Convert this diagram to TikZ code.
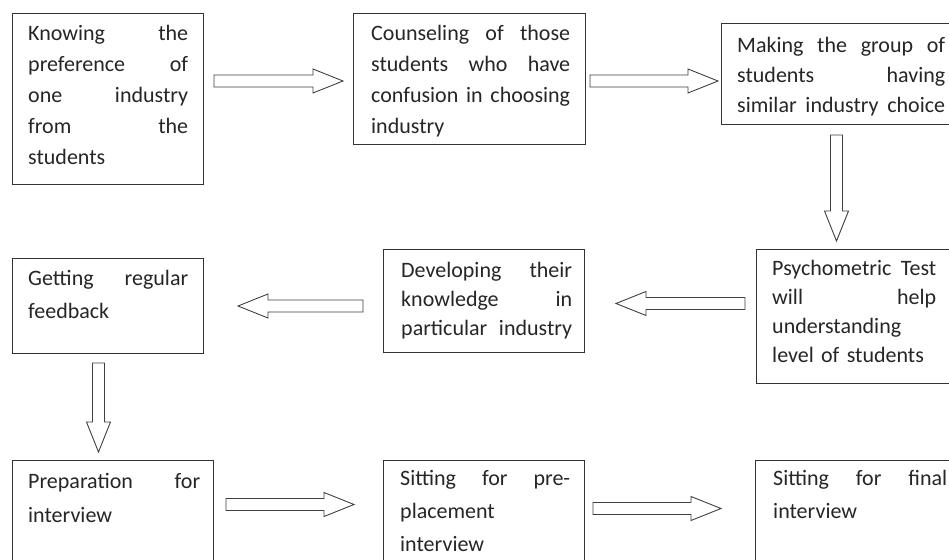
\documentclass[tikz,border=0pt]{standalone}
\usepackage{fontspec}
\setmainfont{Carlito}
\usetikzlibrary{calc}

\tikzset{
	stepbox/.style={draw=black!80, line width=1pt, anchor=north west, inner sep=0pt},
	steptext/.style={anchor=north west, inner sep=0pt, align=left, text=black!85,
		font=\fontsize{22pt}{#1}\selectfont},
	steptext/.default=31pt,
	blockarrow/.style={draw=black!75, line width=0.9pt, to path={
		let \p1=(\tikztostart), \p2=(\tikztotarget),
		    \n1={atan2(\y2-\y1,\x2-\x1)}, \n2={veclen(\x2-\x1,\y2-\y1)} in
		[shift={(\p1)}, rotate=\n1]
		(0pt,-6pt) -- (\n2-30pt,-6pt) -- (\n2-30pt,-12pt) -- (\n2,0pt)
		-- (\n2-30pt,12pt) -- (\n2-30pt,6pt) -- (0pt,6pt) -- cycle}}
}

\begin{document}
\begin{tikzpicture}[x=1pt,y=-1pt]
	\useasboundingbox (0,0) rectangle (949,559);
	\clip (0,0) rectangle (949,559);
	\fill[white] (0,0) rectangle (949,559);

	% boxes
	\node[stepbox, minimum width=191pt, minimum height=171pt] (know) at (12,13) {};
	\node[stepbox, minimum width=232pt, minimum height=131pt] (couns) at (353,13) {};
	\node[stepbox, minimum width=240pt, minimum height=101pt] (group) at (721,23) {};
	\node[stepbox, minimum width=196pt, minimum height=134pt] (psych) at (756,249) {};
	\node[stepbox, minimum width=201pt, minimum height=103pt] (devel) at (383,249) {};
	\node[stepbox, minimum width=191pt, minimum height=95pt] (feed) at (12,258) {};
	\node[stepbox, minimum width=201pt, minimum height=120pt] (prep) at (12,460) {};
	\node[stepbox, minimum width=201pt, minimum height=120pt] (place) at (383,460) {};
	\node[stepbox, minimum width=210pt, minimum height=120pt] (final) at (755,460) {};

	% texts
	\node[steptext, text width=160pt] (knowtxt) at ($(know.north west)+(16,12)$)
		{Knowing\hfill the\\ preference\hfill of\\ one\hfill industry\\ from\hfill the\\ students};
	\node[steptext, text width=199pt] (counstxt) at ($(couns.north west)+(18,12)$)
		{Counseling\hfill of\hfill those\\ students\hfill who\hfill have\\ confusion\hfill in\hfill choosing\\ industry};
	\node[steptext=30pt, text width=208pt] (grouptxt) at ($(group.north west)+(16,14)$)
		{Making\hfill the\hfill group\hfill of\\ students\hfill having\\ similar\hfill industry\hfill choice};
	\node[steptext=29pt, text width=164pt] (psychtxt) at ($(psych.north west)+(16,11)$)
		{Psychometric\hfill Test\\ will\hfill help\\ understanding\\ level of students};
	\node[steptext=29pt, text width=171pt] (develtxt) at ($(devel.north west)+(18,13)$)
		{Developing\hfill their\\ knowledge\hfill in\\ particular\hfill industry};
	\node[steptext=33pt, text width=160pt] (feedtxt) at ($(feed.north west)+(16,12)$)
		{Getting\hfill regular\\ feedback};
	\node[steptext=34pt, text width=172pt] (preptxt) at ($(prep.north west)+(16,13)$)
		{Preparation\hfill for\\ interview};
	\node[steptext=33pt, text width=170pt] (placetxt) at ($(place.north west)+(17,10)$)
		{Sitting\hfill for\hfill pre-\\ placement\\ interview};
	\node[steptext=33pt, text width=174pt] (finaltxt) at ($(final.north west)+(18,10)$)
		{Sitting\hfill for\hfill final\\ interview};

	% arrows
	\draw[blockarrow] ($(know.east |- couns.west)+(10,2)$) to ($(couns.west)+(-10,2)$);
	\draw[blockarrow] ($(couns.east)+(4,2)$) to ($(group.west |- couns.east)+(-3,2)$);
	\draw[blockarrow] ($(group.south)+(-5,10)$) to ($(group.south |- psych.north)+(-5,-8)$);
	\draw[blockarrow] ($(psych.west)+(-11,-13)$) to ($(devel.east |- psych.west)+(31,-13)$);
	\draw[blockarrow] ($(devel.west)+(-20,5)$) to ($(feed.east |- devel.west)+(34,5)$);
	\draw[blockarrow] ($(feed.south)+(-9.5,9)$) to ($(feed.south |- prep.north)+(-9.5,-8)$);
	\draw[blockarrow] ($(prep.east)+(12,-16)$) to ($(place.west |- prep.east)+(-29,-16)$);
	\draw[blockarrow] ($(place.east)+(8,-12)$) to ($(final.west |- place.east)+(-34,-12)$);
\end{tikzpicture}
\end{document}
